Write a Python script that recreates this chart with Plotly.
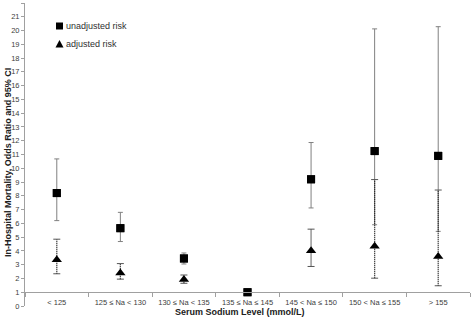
import plotly.graph_objects as go

categories = ["< 125", "125 ≤ Na < 130", "130 ≤ Na < 135", "135 ≤ Na ≤ 145",
              "145 < Na ≤ 150", "150 < Na ≤ 155", "> 155"]
unadj_or = [8.2, 5.65, 3.45, 1.0, 9.2, 11.25, 10.9]
unadj_lo = [6.2, 4.68, 3.05, None, 7.12, 5.9, 5.42]
unadj_hi = [10.68, 6.8, 3.85, None, 11.87, 20.12, 20.28]
adj_or = [3.35, 2.4, 1.92, None, 4.02, 4.33, 3.6]
adj_lo = [2.34, 1.95, 1.65, None, 2.87, 2.02, 1.47]
adj_hi = [4.85, 3.08, 2.25, None, 5.58, 9.18, 8.42]
y_ticks = list(range(0, 23))
legend_labels = ["unadjusted risk", "adjusted risk"]

FONT = "Liberation Sans"
W, H = 472, 318
L, R, T, B = 25, 2, 3, 12
PW, PH = W - L - R, H - T - B


def px(x):
    return (x - L) / PW


def py(y):
    return (H - B - y) / PH


fig = go.Figure()

# unadjusted CI (solid grey with caps)
plus = [(h - v) if h is not None else 0 for h, v in zip(unadj_hi, unadj_or)]
minus = [(v - l) if l is not None else 0 for l, v in zip(unadj_lo, unadj_or)]
fig.add_trace(go.Scatter(
    x=categories, y=unadj_or, mode="markers", name=legend_labels[0],
    marker=dict(symbol="square", size=8, color="black"),
    error_y=dict(type="data", symmetric=False, array=plus, arrayminus=minus,
                 color="#808080", thickness=1, width=2.5),
    showlegend=False))

# adjusted CI (dotted black lines)
xs, ys, cx, cy = [], [], [], []
for c, lo, hi in zip(categories, adj_lo, adj_hi):
    if lo is None:
        continue
    xs += [c, c, None]
    ys += [lo, hi, None]
    cx += [c, c]
    cy += [lo, hi]
fig.add_trace(go.Scatter(x=xs, y=ys, mode="lines",
                         line=dict(color="#111111", width=1.3, dash="1px,1px"),
                         showlegend=False, hoverinfo="skip"))
fig.add_trace(go.Scatter(x=cx, y=cy, mode="markers",
                         marker=dict(symbol="line-ew", size=5,
                                     line=dict(color="#555555", width=1)),
                         showlegend=False, hoverinfo="skip"))

fig.add_trace(go.Scatter(
    x=categories, y=unadj_or, mode="markers", name=legend_labels[0],
    marker=dict(symbol="square", size=8, color="black"), showlegend=False))
fig.add_trace(go.Scatter(
    x=categories, y=adj_or, mode="markers", name=legend_labels[1],
    marker=dict(symbol="triangle-up", size=9, color="black"), showlegend=False))

# custom legend (marker shapes + text)
shapes = [
    dict(type="rect", xref="paper", yref="paper",
         x0=px(56), x1=px(63), y0=py(29.5), y1=py(22.5),
         fillcolor="black", line=dict(width=0)),
    dict(type="path", xref="paper", yref="paper",
         path=f"M {px(55.5)} {py(47.5)} L {px(63.5)} {py(47.5)} L {px(59.5)} {py(40)} Z",
         fillcolor="black", line=dict(width=0)),
]

annotations = [
    dict(text=legend_labels[0], xref="paper", yref="paper", x=px(64), y=py(26),
         xanchor="left", yanchor="middle", showarrow=False,
         font=dict(size=9, color="#303030")),
    dict(text=legend_labels[1], xref="paper", yref="paper", x=px(64), y=py(44),
         xanchor="left", yanchor="middle", showarrow=False,
         font=dict(size=9, color="#303030")),
    dict(text="<b>Serum Sodium Level (mmol/L)</b>", xref="paper", yref="paper",
         x=px(240), y=py(312), xanchor="center", yanchor="middle",
         showarrow=False, font=dict(size=9, color="#202020")),
    dict(text="<b>In-Hospital Mortality, Odds Ratio and 95% CI</b>", xref="paper",
         yref="paper", x=px(8), y=py(163), xanchor="center",
         yanchor="middle", textangle=-90, showarrow=False,
         font=dict(size=9, color="#202020")),
]

fig.update_layout(
    width=W, height=H,
    margin=dict(l=L, r=R, t=T, b=B, autoexpand=False),
    plot_bgcolor="white", paper_bgcolor="white",
    font=dict(family=FONT, size=8, color="#404040"),
    showlegend=False,
    xaxis=dict(type="category", categoryorder="array", categoryarray=categories,
               range=[-0.5, 6.5], anchor="free", position=1 / 22, automargin=False,
               showline=True, linecolor="#a0a0a0", linewidth=1,
               ticks="outside", tickson="boundaries", ticklen=4, tickcolor="#a0a0a0",
               ticklabelstandoff=3,
               tickfont=dict(size=7.5, color="#404040"), showgrid=False, zeroline=False),
    yaxis=dict(range=[0, 22], tickvals=y_ticks, showline=True, linecolor="#a0a0a0",
               linewidth=1, ticks="outside", ticklen=3, tickcolor="#a0a0a0", automargin=False,
               tickfont=dict(size=7.5, color="#404040"), showgrid=False, zeroline=False),
    shapes=shapes,
    annotations=annotations,
)

fig.write_html("out.html", config={"displayModeBar": False},
               post_script="document.body.style.margin='0';document.body.style.overflow='hidden';")
